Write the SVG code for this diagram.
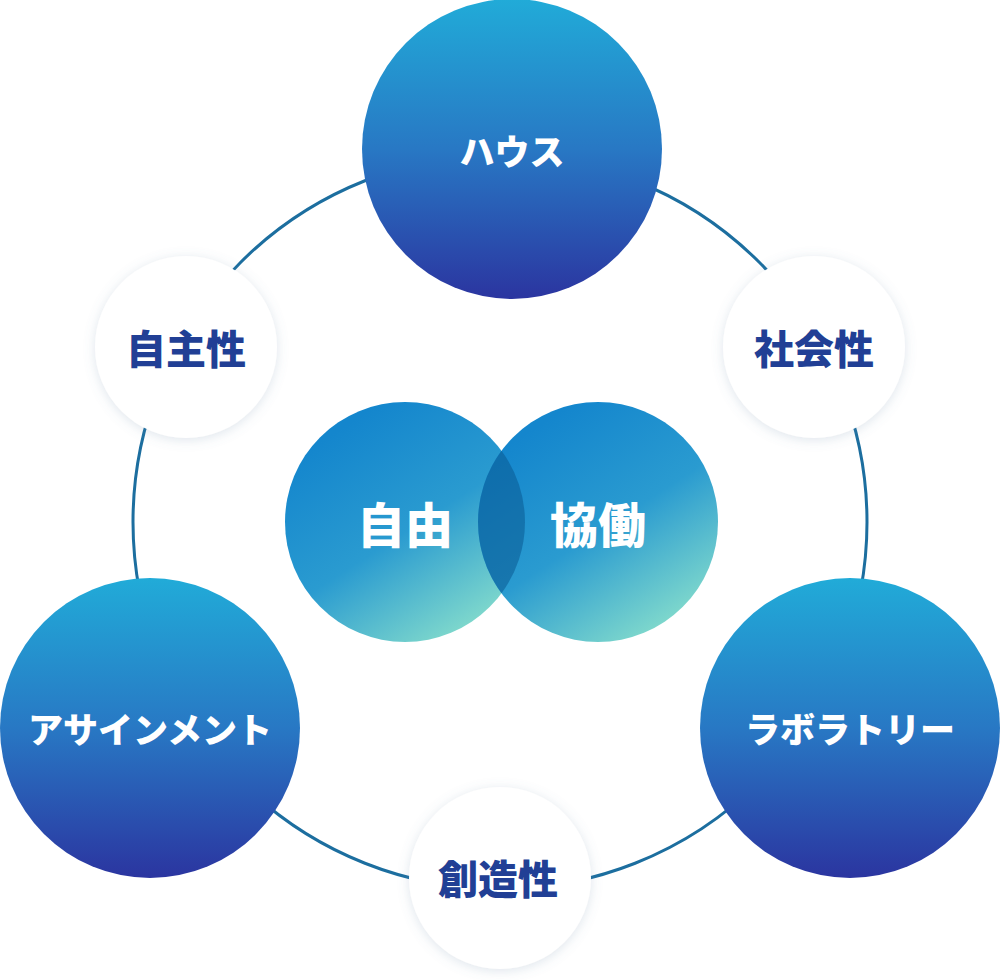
<svg xmlns="http://www.w3.org/2000/svg" width="1000" height="980" viewBox="0 0 1000 980">
  <defs>
    <linearGradient id="bigGrad" x1="0" y1="0" x2="0" y2="1">
      <stop offset="0" stop-color="#21abd8"/>
      <stop offset="0.5" stop-color="#2878c4"/>
      <stop offset="1" stop-color="#2b35a0"/>
    </linearGradient>
    <linearGradient id="vennGrad" x1="0.25" y1="0.1" x2="0.8" y2="0.95">
      <stop offset="0" stop-color="#1486cd"/>
      <stop offset="0.5" stop-color="#2a9bd0"/>
      <stop offset="1" stop-color="#84dccc"/>
    </linearGradient>
    <filter id="softShadow" x="-30%" y="-30%" width="160%" height="160%">
      <feDropShadow dx="0" dy="2" stdDeviation="6" flood-color="#6a8aa8" flood-opacity="0.22"/>
    </filter>
    <style>
      .big { fill: url(#bigGrad); }
      .venn { fill: url(#vennGrad); }
      .white { fill: #ffffff; filter: url(#softShadow); }
      .ring { fill: none; stroke: #1c6e9f; stroke-width: 3; }
      .lbl { font-family: "Noto Sans CJK JP", "Noto Sans", sans-serif; font-weight: 900; text-anchor: middle; dominant-baseline: central; }
      .wl { fill: #ffffff; font-size: 35px; }
      .vl { fill: #ffffff; font-size: 48px; }
      .nl { fill: #213f95; font-size: 40px; }
    </style>
  </defs>
  <rect width="1000" height="980" fill="#ffffff"/>

  <g id="connectors">
    <circle class="ring" cx="500" cy="522" r="367"/>
  </g>

  <g id="venn-jiyu">
    <circle class="venn" cx="405" cy="522" r="120"/>
  </g>
  <g id="venn-kyodo">
    <circle class="venn" cx="598" cy="522" r="120"/>
    <path d="M 501.5 450.7 A 120 120 0 0 1 501.5 593.3 A 120 120 0 0 1 501.5 450.7 Z" fill="#0a5a92" fill-opacity="0.55"/>
  </g>
  <g id="venn-labels">
    <text class="lbl vl" x="405" y="522">自由</text>
    <text class="lbl vl" x="598" y="522">協働</text>
  </g>

  <g id="node-house">
    <circle class="big" cx="512" cy="149" r="150"/>
    <text class="lbl wl" x="512" y="149">ハウス</text>
  </g>
  <g id="node-assignment">
    <circle class="big" cx="150" cy="728" r="150"/>
    <text class="lbl wl" x="150" y="727">アサインメント</text>
  </g>
  <g id="node-laboratory">
    <circle class="big" cx="850" cy="728" r="150"/>
    <text class="lbl wl" x="850" y="727">ラボラトリー</text>
  </g>

  <g id="node-jishusei">
    <circle class="white" cx="186" cy="347" r="91"/>
    <text class="lbl nl" x="186" y="347">自主性</text>
  </g>
  <g id="node-shakaisei">
    <circle class="white" cx="814" cy="347" r="91"/>
    <text class="lbl nl" x="814" y="347">社会性</text>
  </g>
  <g id="node-sozosei">
    <circle class="white" cx="500" cy="878" r="91"/>
    <text class="lbl nl" x="498" y="877">創造性</text>
  </g>
</svg>
